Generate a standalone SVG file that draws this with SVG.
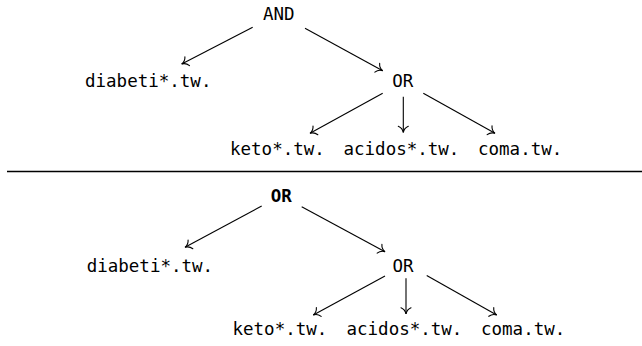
<svg xmlns="http://www.w3.org/2000/svg" width="642" height="346" viewBox="0 0 642 346">
  <style>
    text { font-family: "DejaVu Sans Mono", "Liberation Mono", monospace; font-size: 17.5px; fill: #000; }
    .op-bold { font-weight: bold; }
    .edge { stroke: #000; stroke-width: 1.1; fill: none; marker-end: url(#to); }
    .rule { stroke: #000; stroke-width: 1.3; }
  </style>
  <defs>
    <!-- curved open arrow tip -->
    <marker id="to" viewBox="-8 -7 10 14" refX="0" refY="0" markerWidth="10" markerHeight="14" markerUnits="userSpaceOnUse" orient="auto">
      <path d="M -6.2,-5 C -4.8,-1.8 -2,-0.4 0,0 C -2,0.4 -4.8,1.8 -6.2,5" fill="none" stroke="#000" stroke-width="1.1" stroke-linecap="round"/>
    </marker>
  </defs>

  <!-- upper tree -->
  <g id="t1-and"><text x="263" y="19.5">AND</text></g>
  <g id="t1-diabeti"><text x="85" y="87">diabeti*.tw.</text></g>
  <g id="t1-or"><text x="392.3" y="87">OR</text></g>
  <g id="t1-keto"><text x="230" y="155">keto*.tw.</text></g>
  <g id="t1-acidos"><text x="343.5" y="155">acidos*.tw.</text></g>
  <g id="t1-coma"><text x="478" y="155">coma.tw.</text></g>

  <!-- separator -->
  <line class="rule" x1="7" y1="171.5" x2="642" y2="171.5"/>

  <!-- lower tree -->
  <g id="t2-or-root"><text class="op-bold" x="270.7" y="202">OR</text></g>
  <g id="t2-diabeti"><text x="86.7" y="271.5">diabeti*.tw.</text></g>
  <g id="t2-or"><text x="392.5" y="271.5">OR</text></g>
  <g id="t2-keto"><text x="232.5" y="335">keto*.tw.</text></g>
  <g id="t2-acidos"><text x="346.5" y="335">acidos*.tw.</text></g>
  <g id="t2-coma"><text x="481" y="335">coma.tw.</text></g>

  <g id="connectors">
    <line class="edge" x1="252.7" y1="27.3" x2="181.7" y2="64"/>
    <line class="edge" x1="305" y1="28.3" x2="382.7" y2="70.7"/>
    <line class="edge" x1="382.7" y1="93.3" x2="310" y2="133.3"/>
    <line class="edge" x1="403.3" y1="96.7" x2="403.3" y2="132.5"/>
    <line class="edge" x1="423.3" y1="93.3" x2="495" y2="133.3"/>

    <line class="edge" x1="261.7" y1="206" x2="185" y2="247.3"/>
    <line class="edge" x1="301.7" y1="206.7" x2="385" y2="251.7"/>
    <line class="edge" x1="385" y1="276" x2="313.3" y2="315"/>
    <line class="edge" x1="406" y1="278.3" x2="406" y2="314"/>
    <line class="edge" x1="426.7" y1="275.5" x2="496.7" y2="315"/>
  </g>
</svg>
